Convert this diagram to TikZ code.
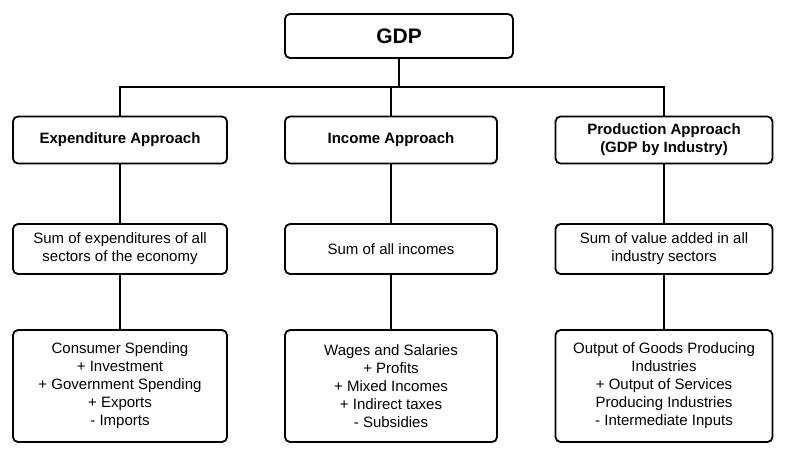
\documentclass[tikz,border=0pt]{standalone}
\usepackage{fontspec}
\setmainfont{Liberation Sans}
\begin{document}
\begin{tikzpicture}[x=1pt,y=-1pt,
  box/.style={draw,line width=1.8pt,rounded corners=5pt,align=center,inner sep=0pt,font=\fontsize{15}{18}\selectfont},
  hdr/.style={box,font=\bfseries\fontsize{15}{18}\selectfont},
  ln/.style={line width=1.8pt}]
\useasboundingbox (0,0) rectangle (800,451);
\node[box,font=\bfseries\fontsize{21}{25}\selectfont,minimum width=228pt,minimum height=44pt] (gdp) at (399,36) {GDP};
\node[hdr,minimum width=214pt,minimum height=47pt] (e1) at (120,140) {Expenditure Approach};
\node[hdr,minimum width=212pt,minimum height=47pt] (i1) at (391,140) {Income Approach};
\node[hdr,minimum width=217pt,minimum height=47pt] (p1) at (664,140) {Production Approach\\(GDP by Industry)};
\node[box,minimum width=214pt,minimum height=50pt] (e2) at (120,249) {Sum of expenditures of all\\sectors of the economy};
\node[box,minimum width=212pt,minimum height=50pt] (i2) at (391,249) {Sum of all incomes};
\node[box,minimum width=217pt,minimum height=50pt] (p2) at (664,249) {Sum of value added in all\\industry sectors};
\node[box,minimum width=214pt,minimum height=112pt] (e3) at (120,386) {Consumer Spending\\+ Investment\\+ Government Spending\\+ Exports\\- Imports};
\node[box,minimum width=212pt,minimum height=112pt] (i3) at (391,386) {Wages and Salaries\\+ Profits\\+ Mixed Incomes\\+ Indirect taxes\\- Subsidies};
\node[box,minimum width=217pt,minimum height=112pt] (p3) at (664,386) {Output of Goods Producing\\Industries\\+ Output of Services\\Producing Industries\\- Intermediate Inputs};
\coordinate (j) at (399,87);
\draw[ln] (gdp.south) -- (j);
\draw[ln] (e1.north) |- (j) -| (p1.north);
\draw[ln] (i1.north) -- (391,87);
\foreach \c in {e,i,p}{
  \draw[ln] (\c1.south) -- (\c2.north);
  \draw[ln] (\c2.south) -- (\c3.north);
}
\end{tikzpicture}
\end{document}
